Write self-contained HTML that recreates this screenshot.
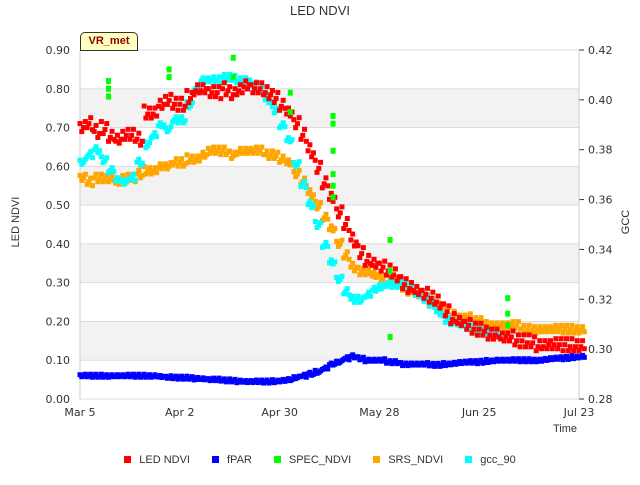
<!DOCTYPE html>
<html><head><meta charset="utf-8"><style>
body{margin:0;background:#fff;font-family:"Liberation Sans","DejaVu Sans",sans-serif}
svg text{font-family:"DejaVu Sans","Liberation Sans",sans-serif;fill:#333}
</style></head><body>
<svg id="c" width="640" height="480" xmlns="http://www.w3.org/2000/svg"></svg>
<script>
const ledNdvi=[0.70,0.71,0.69,0.70,0.68,0.67,0.68,0.68,0.67,0.74,0.74,0.76,0.77,0.76,0.76,0.78,0.80,0.80,0.79,0.79,0.80,0.79,0.80,0.81,0.80,0.80,0.79,0.78,0.76,0.74,0.71,0.68,0.64,0.60,0.56,0.52,0.48,0.45,0.41,0.38,0.36,0.35,0.34,0.33,0.32,0.30,0.29,0.28,0.27,0.26,0.25,0.23,0.21,0.20,0.19,0.18,0.18,0.17,0.17,0.16,0.16,0.15,0.15,0.15,0.14,0.14,0.14,0.14,0.14,0.14,0.14];
const fpar=[0.06,0.06,0.06,0.06,0.06,0.06,0.06,0.06,0.06,0.06,0.06,0.058,0.056,0.055,0.055,0.055,0.053,0.052,0.05,0.05,0.048,0.048,0.046,0.045,0.045,0.045,0.045,0.046,0.048,0.05,0.055,0.06,0.065,0.07,0.08,0.09,0.095,0.105,0.11,0.105,0.10,0.10,0.10,0.095,0.095,0.09,0.09,0.09,0.09,0.088,0.088,0.09,0.092,0.094,0.095,0.095,0.096,0.098,0.10,0.10,0.10,0.10,0.10,0.10,0.10,0.102,0.104,0.105,0.106,0.108,0.11];
const srsNdvi=[0.57,0.56,0.57,0.57,0.57,0.56,0.57,0.57,0.58,0.59,0.59,0.60,0.60,0.61,0.61,0.62,0.62,0.63,0.64,0.64,0.64,0.63,0.64,0.64,0.64,0.64,0.63,0.63,0.62,0.61,0.58,0.56,0.53,0.50,0.47,0.44,0.40,0.37,0.34,0.33,0.33,0.32,0.31,0.30,0.30,0.29,0.28,0.27,0.26,0.25,0.24,0.23,0.22,0.21,0.21,0.20,0.20,0.19,0.19,0.19,0.19,0.19,0.18,0.18,0.18,0.18,0.18,0.18,0.18,0.18,0.18];
const gcc90=[0.375,0.378,0.380,0.376,0.372,0.368,0.367,0.369,0.375,0.382,0.386,0.390,0.388,0.392,0.392,0.398,0.405,0.408,0.408,0.408,0.409,0.409,0.408,0.408,0.406,0.404,0.400,0.396,0.390,0.384,0.374,0.366,0.358,0.350,0.342,0.335,0.328,0.323,0.320,0.320,0.322,0.324,0.325,0.326,0.326,0.326,0.325,0.322,0.320,0.318,0.315,0.312,0.311,0.310,0.309,0.308,0.307,0.307,0.306];
const specDays=[8,8,8,25,25,43,43,59,59,71,71,71,71,71,71,87,87,87,120,120,120];
const specVals=[0.82,0.80,0.78,0.85,0.83,0.88,0.83,0.79,0.74,0.73,0.71,0.64,0.58,0.55,0.52,0.41,0.33,0.16,0.26,0.22,0.19];
const dateLabels=["Mar 5","Apr 2","Apr 30","May 28","Jun 25","Jul 23"];
const leftTicks=[0,0.1,0.2,0.3,0.4,0.5,0.6,0.7,0.8,0.9];
const rightTicks=[0.28,0.30,0.32,0.34,0.36,0.38,0.40,0.42];
const STEP=2;
const X0=80,X1=579,Y0=399,Y1=50;
const x=d=>X0+d/140*(X1-X0);
const yL=v=>Y0-v/0.9*(Y0-Y1);
const yR=v=>Y0-(v-0.28)/0.14*(Y0-Y1);
const svg=document.getElementById('c');const NS='http://www.w3.org/2000/svg';
function mk(t,a,p){const e=document.createElementNS(NS,t);for(const k in a)e.setAttribute(k,a[k]);(p||svg).appendChild(e);return e;}
const grid=mk('g',{});
for(let i=0;i<9;i++){const v=leftTicks[i];if(i%2==1)mk('rect',{x:X0,y:yL(v+0.1),width:X1-X0,height:yL(v)-yL(v+0.1),fill:'#f2f2f2'},grid);}
leftTicks.forEach(v=>{mk('line',{x1:X0,x2:X1,y1:yL(v),y2:yL(v),stroke:'#ddd'},grid);
const t=mk('text',{x:70,y:yL(v)+4,'font-size':11,'text-anchor':'end'});t.textContent=v.toFixed(2);
});
rightTicks.forEach(v=>{mk('line',{x1:X1,x2:X1+5,y1:yR(v),y2:yR(v),stroke:'#333'});
const t=mk('text',{x:588,y:yR(v)+4,'font-size':11});t.textContent=v.toFixed(2);
});
dateLabels.forEach((s,i)=>{const t=mk('text',{x:x(i*28),y:416,'font-size':11,'text-anchor':'middle'});t.textContent=s;
});
mk('line',{x1:X0,x2:X0,y1:Y1,y2:Y0,stroke:'#ccc'});mk('line',{x1:X1,x2:X1,y1:Y1,y2:Y0,stroke:'#ccc'});
const spread=[-1,1,0,-1.5,1.5,0.5];
function series(arr,col,yf,sz,name,amp){const g=mk('g',{});
arr.forEach((v,i)=>{for(let k=0;k<4;k++){const off=spread[(i+k)%6]*amp;
const r=mk('rect',{x:x(i*STEP+k*0.5)-sz/2,y:yf(v)-sz/2+off,width:sz,height:sz,fill:col},g);
}});}
series(fpar,'#0000ff',yL,5,'fpar-series',1);
series(srsNdvi,'#ffa500',yL,5,'srs-ndvi-series',2.5);
series(gcc90,'#00ffff',yR,5,'gcc-90-series',2);
series(ledNdvi,'#ff0000',yL,5,'led-ndvi-series',4);
const sg=mk('g',{});
specDays.forEach((d,i)=>{const r=mk('rect',{x:x(d)-2.5,y:yL(specVals[i])-3,width:5,height:6,fill:'#00ff00'},sg);
});
</script>
<div style="position:absolute;left:0;top:0;width:640px;height:480px;pointer-events:none">
<div style="position:absolute;top:3px;width:640px;text-align:center;font-size:13px;color:#333">LED NDVI</div>
<div style="position:absolute;left:80px;top:32px;width:56px;height:17px;background:#ffffc0;border:1px solid #333;border-radius:5px 5px 0 0;color:#8b0000;font-weight:bold;font-size:11px;text-align:center;line-height:17px">VR_met</div>
<div style="position:absolute;left:-14px;top:216px;width:60px;text-align:center;transform:rotate(-90deg);font-size:11px;color:#333">LED NDVI</div>
<div style="position:absolute;left:606px;top:216px;width:40px;text-align:center;transform:rotate(-90deg);font-size:11px;color:#333">GCC</div>
<div style="position:absolute;left:553px;top:423px;font-size:11px;color:#333">Time</div>
<div style="position:absolute;top:454px;left:0;width:640px;font-size:11px;color:#333;display:flex;justify-content:center;gap:22px">
<span><b style="display:inline-block;width:7px;height:7px;background:#f00;margin-right:8px"></b>LED NDVI</span>
<span><b style="display:inline-block;width:7px;height:7px;background:#00f;margin-right:8px"></b>fPAR</span>
<span><b style="display:inline-block;width:7px;height:7px;background:#0f0;margin-right:8px"></b>SPEC_NDVI</span>
<span><b style="display:inline-block;width:7px;height:7px;background:#ffa500;margin-right:8px"></b>SRS_NDVI</span>
<span><b style="display:inline-block;width:7px;height:7px;background:#0ff;margin-right:8px"></b>gcc_90</span>
</div></div>
</body></html>
